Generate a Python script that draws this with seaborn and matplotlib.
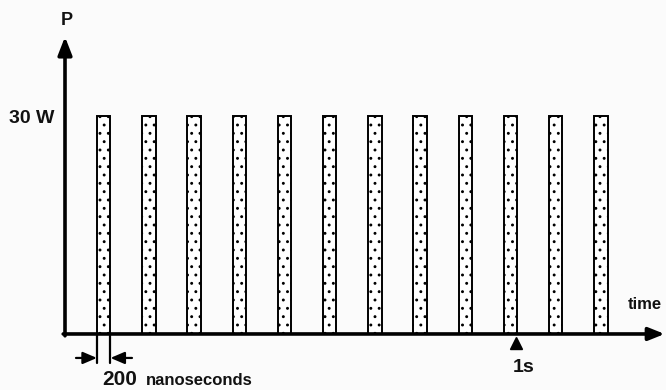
import numpy as np
import pandas as pd
import matplotlib
matplotlib.use("Agg")
import matplotlib.pyplot as plt
import seaborn as sns

# pulse train: one 30 W pulse every 0.1 s (pulse width drawn exaggerated)
pulse_time = [0.1, 0.2, 0.3, 0.4, 0.5, 0.6, 0.7, 0.8, 0.9, 1.0, 1.1, 1.2]
pulse_power = [30, 30, 30, 30, 30, 30, 30, 30, 30, 30, 30, 30]
power_label = "30 W"
marker_time = 1.0
marker_label = "1s"
width_label = "200"
width_unit = "nanoseconds"

sns.set_theme(style="white")
plt.rcParams['font.family'] = ['Liberation Sans', 'DejaVu Sans']
plt.rcParams['hatch.color'] = '#6a6a6a'
plt.rcParams['hatch.linewidth'] = 0.9

fig = plt.figure(figsize=(6.66, 3.9), dpi=100)
fig.patch.set_facecolor('#fbfbfb')
ax = fig.add_axes([0, 0, 1, 1])
ax.set_facecolor('#fbfbfb')

df = pd.DataFrame({'time': pulse_time, 'power': pulse_power})
bar_w = 0.30  # fraction of pulse spacing
sns.barplot(data=df, x='time', y='power', native_scale=True, width=bar_w,
            color='white', edgecolor='black', linewidth=1.4, hatch='..', ax=ax)
for p in ax.patches:
    p.set_facecolor('white')

ax.set_xlim(-0.1294, 1.344)
ax.set_ylim(-7.71, 45.96)
ax.axis('off')

x0 = 0.0144
# axes with arrows
ax.annotate('', xy=(x0, 40.9), xytext=(x0, -0.25),
            arrowprops=dict(arrowstyle='-|>,head_length=0.9,head_width=0.35',
                            color='black', lw=2.6, shrinkA=0, shrinkB=0))
ax.annotate('', xy=(1.341, 0), xytext=(x0 - 0.004, 0),
            arrowprops=dict(arrowstyle='-|>,head_length=0.8,head_width=0.32',
                            color='black', lw=2.6, shrinkA=0, shrinkB=0))

bold = dict(fontweight='bold', color='#111111')
ax.text(x0 + 0.005, 43.1, 'P', ha='center', va='center', fontsize=13, **bold)
ax.text(-0.010, 29.7, power_label, ha='right', va='center', fontsize=14, **bold)
ax.text(1.2976, 4.1, 'time', ha='center', va='center', fontsize=12, **bold)

# 1 s marker
ax.plot([marker_time + 0.012], [-1.25], marker='^', color='black', markersize=9,
        clip_on=False)
ax.text(marker_time + 0.028, -4.55, marker_label, ha='center', va='center',
        fontsize=14, **bold)

# pulse width dimension
half = bar_w * 0.1 / 2
left_edge = pulse_time[0] - half
right_edge = pulse_time[0] + half
for xe in (left_edge, right_edge):
    ax.plot([xe, xe], [0, -4.0], color='black', lw=1.6)
ax.annotate('', xy=(left_edge, -3.3), xytext=(0.0387, -3.3),
            arrowprops=dict(arrowstyle='-|>,head_length=0.7,head_width=0.3',
                            color='black', lw=1.6, shrinkA=0, shrinkB=0))
ax.annotate('', xy=(right_edge, -3.3), xytext=(0.1626, -3.3),
            arrowprops=dict(arrowstyle='-|>,head_length=0.7,head_width=0.3',
                            color='black', lw=1.6, shrinkA=0, shrinkB=0))
ax.text(0.0960, -6.2, width_label, ha='left', va='center', fontsize=15, **bold)
ax.text(0.1930, -6.4, width_unit, ha='left', va='center', fontsize=12, **bold)

fig.savefig('out.png', dpi=100, facecolor=fig.get_facecolor())
